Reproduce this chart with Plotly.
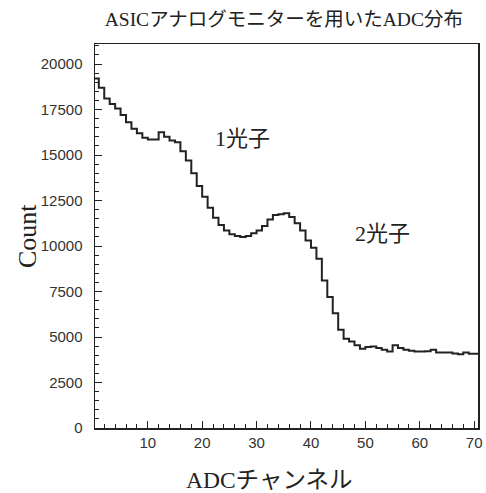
import numpy as np
import plotly.graph_objects as go

# ADC channel bins (lower edges, width 1) and counts
channels = list(range(0, 71))
counts = [
    19200, 18700, 18100, 17800, 17550, 17200, 16800, 16450, 16200, 15950,
    15850, 15850, 16250, 16000, 15800, 15700, 15200, 14700, 14000, 13300,
    12700, 12100, 11550, 11150, 10850, 10650, 10550, 10500, 10550, 10700,
    10850, 11100, 11450, 11700, 11750, 11800, 11600, 11250, 10850, 10300,
    9900, 9300, 8100, 7200, 6300, 5400, 4900, 4750, 4550, 4350,
    4450, 4480, 4400, 4300, 4200, 4550, 4400, 4300, 4250, 4200,
    4200, 4220, 4300, 4150, 4150, 4150, 4100, 4050, 4150, 4080,
    4080,
]
bin_width = 1.0

title_text = "ASICアナログモニターを用いたADC分布"
x_title = "ADCチャンネル"
y_title = "Count"
peak_labels = ["1光子", "2光子"]
peak_label_pos = [(27.5, 15935), (53.06, 10715)]

x_ticks = [10, 20, 30, 40, 50, 60, 70]
y_ticks = [0, 2500, 5000, 7500, 10000, 12500, 15000, 17500, 20000]

# step outline from bin edges
lo = np.array(channels, dtype=float)
v = np.array(counts, dtype=float)
edges = np.append(lo, lo[-1] + bin_width)
step_y = np.append(v, v[-1])

serif = "Liberation Serif, 'Noto Sans CJK JP', serif"
sans = "Liberation Sans, Arial, sans-serif"
ink = "#222222"

fig = go.Figure()
fig.add_trace(go.Scatter(
    x=edges, y=step_y, mode="lines",
    line=dict(shape="hv", color=ink, width=2),
    showlegend=False, hoverinfo="skip", cliponaxis=True,
))

for txt, (ax, ay) in zip(peak_labels, peak_label_pos):
    fig.add_annotation(x=ax, y=ay, text=txt, showarrow=False,
                       font=dict(family=serif, size=22, color=ink))

# axis titles as annotations for precise placement
fig.add_annotation(xref="paper", yref="paper", x=0.454, y=-0.1354,
                   text=x_title, showarrow=False, xanchor="center", yanchor="middle",
                   font=dict(family=serif, size=23.5, color=ink))
fig.add_annotation(xref="paper", yref="paper", x=-0.1775, y=0.5,
                   text=y_title, showarrow=False, textangle=-90,
                   xanchor="center", yanchor="middle",
                   font=dict(family=serif, size=26, color=ink))

fig.update_layout(
    width=486, height=493,
    margin=dict(l=95, r=8, t=44, b=65, autoexpand=False),
    paper_bgcolor="white", plot_bgcolor="white",
    title=dict(text=title_text, xref="paper", x=0.493, xanchor="center",
               yref="container", y=1 - 19 / 493, yanchor="middle",
               font=dict(family=serif, size=19.5, color=ink)),
    font=dict(family=sans, color=ink),
)

fig.update_xaxes(
    range=[0.3, 70.7], tickvals=x_ticks, ticks="inside", ticklen=7,
    tickwidth=1, tickcolor=ink, automargin=False,
    minor=dict(dtick=2, tick0=0, ticks="inside", ticklen=4, tickcolor=ink),
    showline=True, linecolor=ink, linewidth=1.5, mirror=True,
    showgrid=False, zeroline=False,
    tickfont=dict(family=sans, size=15, color="#333333"),
)
fig.update_yaxes(
    range=[0, 21100], tickvals=y_ticks, tickformat="d", ticks="inside", ticklen=7,
    tickwidth=1, tickcolor=ink, automargin=False,
    minor=dict(dtick=500, tick0=0, ticks="inside", ticklen=4, tickcolor=ink),
    showline=True, linecolor=ink, linewidth=1.5, mirror=True,
    showgrid=False, zeroline=False, ticklabelstandoff=8,
    tickfont=dict(family=sans, size=15, color="#333333"),
)

# remove the default page margin so the figure fills the window exactly
fig.write_html(
    "out.html",
    config={"displayModeBar": False, "staticPlot": True},
    post_script="document.body.style.margin='0px';"
                "document.documentElement.style.overflow='hidden';",
)
